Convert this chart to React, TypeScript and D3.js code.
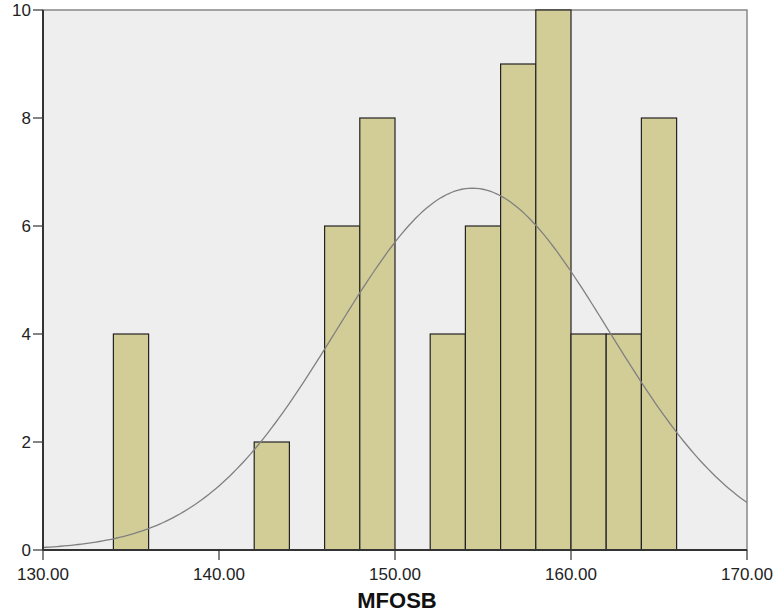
import React from "react";
import * as d3 from "d3";

const binStarts = [134, 142, 146, 148, 152, 154, 156, 158, 160, 162, 164];
const counts = [4, 2, 6, 8, 4, 6, 9, 10, 4, 4, 8];
const binWidth = 2;
const xTicks = [130, 140, 150, 160, 170];
const yTicks = [0, 2, 4, 6, 8, 10];
const curveMean = 154.4;
const curveSd = 7.74;
const axisTitle = "MFOSB";

export default function App() {
  const W = 778, H = 615;
  const left = 43, right = 747, top = 10, bottom = 550;
  const x = d3.scaleLinear().domain([130, 170]).range([left, right]);
  const y = d3.scaleLinear().domain([0, 10]).range([bottom, top]);
  const n = d3.sum(counts);
  const pts: [number, number][] = d3.range(130, 170.001, 0.2).map((v) => {
    const dens = (n * binWidth) / (curveSd * Math.sqrt(2 * Math.PI)) * Math.exp(-0.5 * ((v - curveMean) / curveSd) ** 2);
    return [x(v), y(dens)];
  });
  const line = d3.line().curve(d3.curveLinear)(pts) || "";
  const font = "'Liberation Sans', Arial, sans-serif";
  return (
    <svg width={W} height={H} style={{ position: "absolute", left: 0, top: 0, background: "#fff" }}>
      <rect x={left} y={top} width={right - left} height={bottom - top} fill="#EEEEEE" stroke="#888" strokeWidth={1.5} />
      {binStarts.map((b, i) => (
        <rect key={i} x={x(b)} y={y(counts[i])} width={x(b + binWidth) - x(b)} height={y(0) - y(counts[i])}
          fill="#D2CD96" stroke="#222" strokeWidth={1.2} />
      ))}
      <path d={line} fill="none" stroke="#808080" strokeWidth={1.3} />
      <line x1={left} x2={left} y1={top} y2={bottom} stroke="#333" strokeWidth={2} />
      <line x1={left} x2={right} y1={bottom} y2={bottom} stroke="#333" strokeWidth={2} />
      {yTicks.map((t) => (
        <g key={t}>
          <line x1={left - 10} x2={left} y1={y(t)} y2={y(t)} stroke="#333" strokeWidth={1.2} />
          <text x={left - 12} y={y(t)} dy="0.36em" textAnchor="end" fontFamily={font} fontSize={17} fill="#222">{t}</text>
        </g>
      ))}
      {xTicks.map((t) => (
        <g key={t}>
          <line x1={x(t)} x2={x(t)} y1={bottom} y2={bottom + 10} stroke="#333" strokeWidth={1.2} />
          <text x={x(t)} y={580} textAnchor="middle" fontFamily={font} fontSize={17} fill="#222">{t.toFixed(2)}</text>
        </g>
      ))}
      <text x={397} y={608} textAnchor="middle" fontFamily={font} fontSize={22} fontWeight="bold" fill="#111">{axisTitle}</text>
    </svg>
  );
}
